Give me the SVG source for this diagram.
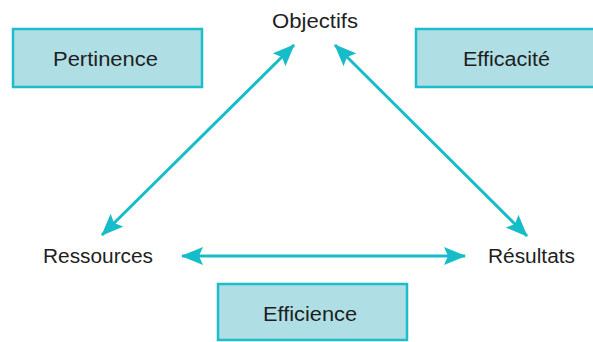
<svg xmlns="http://www.w3.org/2000/svg" width="593" height="342" viewBox="0 0 593 342">
  <style>
    .box { fill: #afdee4; stroke: #1fbdc9; stroke-width: 2.5; }
    .lbl { font-family: "Liberation Sans", Arial, sans-serif; font-size: 20px; fill: #1e1e1e; }
    .conn { stroke: #16bcc8; stroke-width: 3; fill: none; marker-start: url(#arr); marker-end: url(#arr); }
  </style>
  <defs>
    <marker id="arr" viewBox="0 0 22 18" refX="21" refY="9" markerWidth="22" markerHeight="18" markerUnits="userSpaceOnUse" orient="auto-start-reverse">
      <path d="M0,0 L22,9 L0,18 L4,9 Z" fill="#16bcc8"/>
    </marker>
  </defs>
  <rect width="593" height="342" fill="#fff"/>
  <g id="connectors">
    <line class="conn" x1="294" y1="45" x2="102" y2="235"/>
    <line class="conn" x1="335" y1="45" x2="527" y2="236"/>
    <line class="conn" x1="182" y1="256" x2="465" y2="256"/>
  </g>
  <g id="objectifs">
    <text class="lbl" x="272" y="28" textLength="86" lengthAdjust="spacingAndGlyphs">Objectifs</text>
  </g>
  <g id="ressources">
    <text class="lbl" x="43" y="263" textLength="110" lengthAdjust="spacingAndGlyphs">Ressources</text>
  </g>
  <g id="resultats">
    <text class="lbl" x="488" y="263" textLength="87" lengthAdjust="spacingAndGlyphs">Résultats</text>
  </g>
  <g id="pertinence">
    <rect class="box" x="13" y="29" width="189" height="58"/>
    <text class="lbl" x="53" y="66" textLength="105" lengthAdjust="spacingAndGlyphs">Pertinence</text>
  </g>
  <g id="efficacite">
    <rect class="box" x="416" y="29" width="180" height="58"/>
    <text class="lbl" x="463" y="66" textLength="87" lengthAdjust="spacingAndGlyphs">Efficacité</text>
  </g>
  <g id="efficience">
    <rect class="box" x="218" y="284" width="189" height="56"/>
    <text class="lbl" x="263" y="321" textLength="94" lengthAdjust="spacingAndGlyphs">Efficience</text>
  </g>
</svg>
